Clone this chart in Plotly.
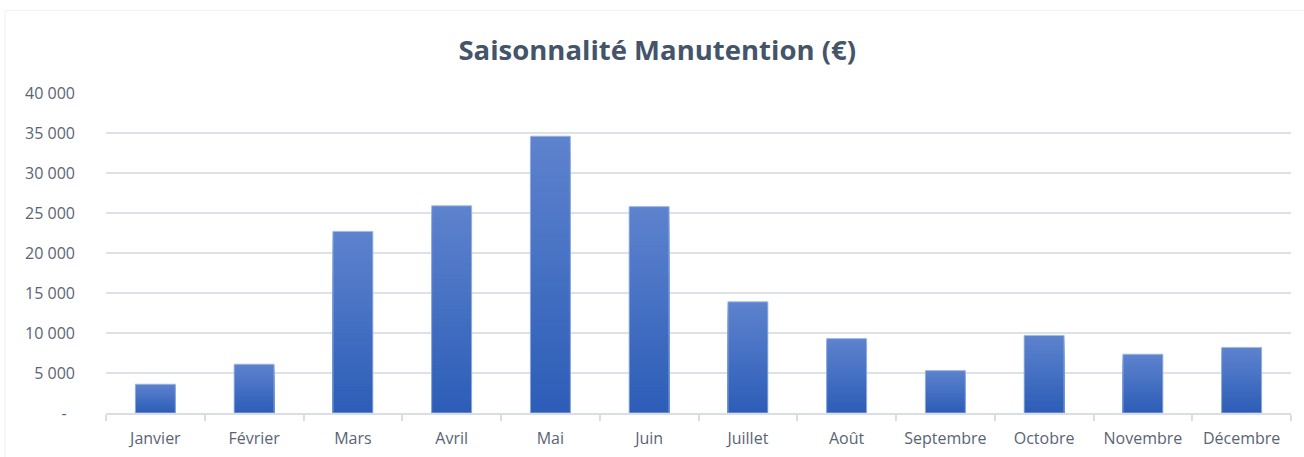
import plotly.graph_objects as go

# Monthly handling revenue (EUR)
months = ["Janvier", "Février", "Mars", "Avril", "Mai", "Juin",
          "Juillet", "Août", "Septembre", "Octobre", "Novembre", "Décembre"]
values = [3600, 6100, 22700, 25900, 34600, 25800,
          13900, 9300, 5300, 9700, 7350, 8200]

tick_vals = [0, 5000, 10000, 15000, 20000, 25000, 30000, 35000, 40000]
tick_text = ["-\u00a0\u00a0", "5\u00a0000", "10\u00a0000", "15\u00a0000", "20\u00a0000",
             "25\u00a0000", "30\u00a0000", "35\u00a0000", "40\u00a0000"]

TOP_RGB = (94, 131, 206)     # lighter blue at the top of each bar
BOTTOM_RGB = (44, 93, 183)   # darker blue at the base
N_STEPS = 48
BAR_GAP = 0.595

FONT = "'Open Sans', Lato, sans-serif"

fig = go.Figure()

# Vertical gradient: nested bars, tallest (lightest) first, each shorter
# one drawn on top with a slightly darker shade.
for k in range(N_STEPS, 0, -1):
    t = (k - 0.5) / N_STEPS
    rgb = tuple(round(BOTTOM_RGB[i] + (TOP_RGB[i] - BOTTOM_RGB[i]) * t) for i in range(3))
    frac = k / N_STEPS
    fig.add_trace(go.Bar(
        x=months,
        y=[v * frac for v in values],
        marker=dict(color="rgb(%d,%d,%d)" % rgb, line=dict(width=0)),
        hoverinfo="skip",
        showlegend=False,
    ))

# Thin light outline around each bar
fig.add_trace(go.Bar(
    x=months,
    y=values,
    marker=dict(color="rgba(0,0,0,0)", line=dict(width=1, color="rgba(160,185,228,0.9)")),
    hovertemplate="%{x}: %{y:,.0f} €<extra></extra>",
    showlegend=False,
))

fig.update_layout(
    width=1304,
    height=457,
    barmode="overlay",
    bargap=BAR_GAP,
    paper_bgcolor="white",
    plot_bgcolor="white",
    margin=dict(l=106, r=13, t=93, b=43.5, autoexpand=False),
    font=dict(family=FONT, size=15, color="#5a6474"),
    title=dict(
        text="<b>Saisonnalité Manutention (€)</b>",
        x=0.504, xref="container", xanchor="center",
        y=1 - 50 / 457, yref="container", yanchor="middle",
        font=dict(family=FONT, size=27.5, color="#44546a"),
    ),
    xaxis=dict(
        type="category",
        automargin=False,
        showgrid=False,
        showline=True,
        linecolor="#d9dde4",
        linewidth=1.5,
        ticks="outside",
        tickson="boundaries",
        ticklen=6,
        tickwidth=1.5,
        tickcolor="#d9dde4",
        ticklabelstandoff=10,
        tickfont=dict(size=16, color="#5a6474"),
    ),
    yaxis=dict(
        range=[0, 40000],
        automargin=False,
        tickvals=tick_vals,
        ticktext=tick_text,
        showgrid=True,
        gridcolor="#dde1e8",
        gridwidth=1.5,
        zeroline=False,
        showline=False,
        ticks="",
        ticklabelstandoff=30,
        tickfont=dict(size=16, color="#5a6474"),
    ),
    shapes=[dict(
        type="rect", xref="paper", yref="paper",
        x0=(5 - 106) / 1185, x1=(1320 - 106) / 1185,
        y0=-0.5, y1=(413.5 - 10.5) / 320.5,
        line=dict(color="#f0f0f0", width=1),
        fillcolor="rgba(0,0,0,0)",
        layer="below",
    )],
)

fig.write_html("out.html")
